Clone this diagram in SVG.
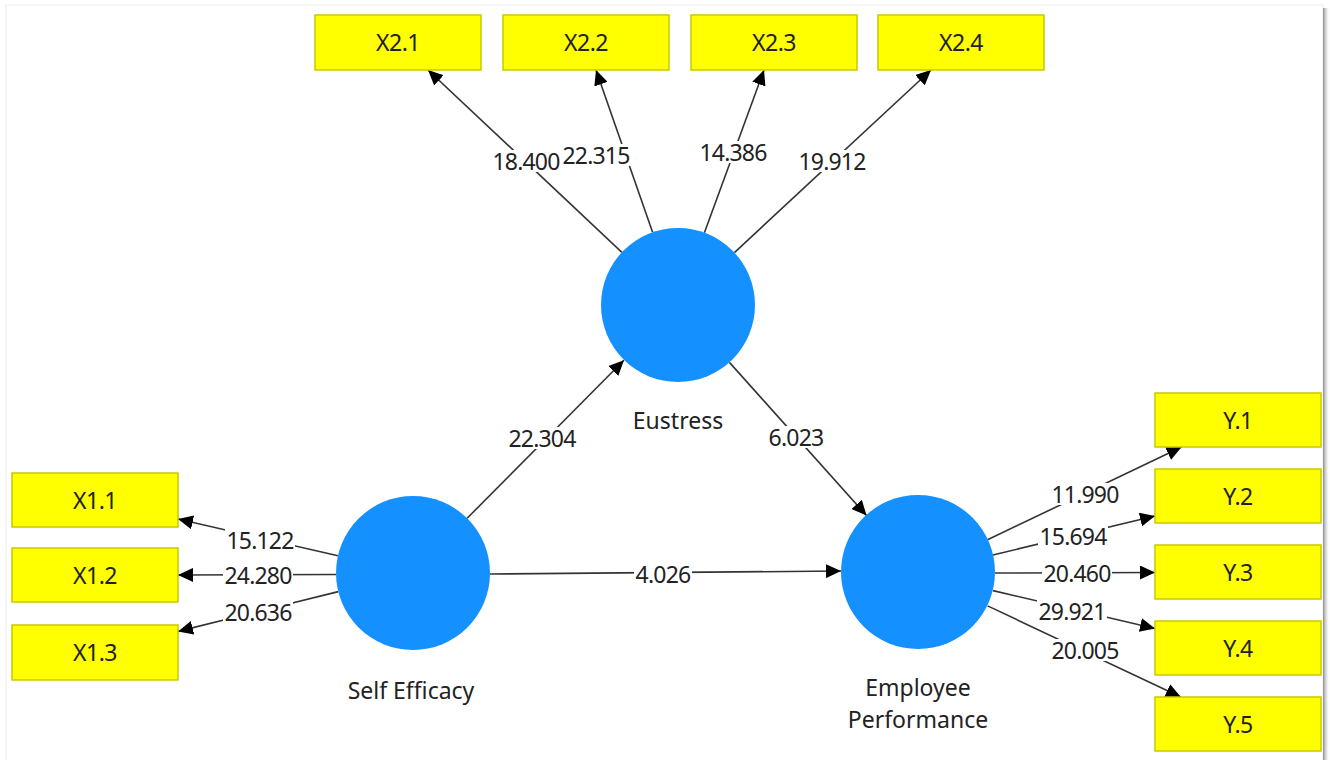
<svg xmlns="http://www.w3.org/2000/svg" width="1330" height="760" viewBox="0 0 1330 760">
<defs>
<marker id="ah" markerUnits="userSpaceOnUse" markerWidth="16" markerHeight="14" refX="15" refY="7" orient="auto">
<path d="M0,0 L15,7 L0,14 Z" fill="#000"/>
</marker>
<linearGradient id="sh" x1="0" x2="1" y1="0" y2="0">
<stop offset="0" stop-color="#8a8a8a"/>
<stop offset="1" stop-color="#ffffff" stop-opacity="0"/>
</linearGradient>
<style>
.ind rect{fill:#ffff00;stroke:#c9c900;stroke-width:1.5}
.ind text{font-family:"Noto Sans","Open Sans",sans-serif;font-size:23px;fill:#222;text-anchor:middle;dominant-baseline:central;letter-spacing:-0.5px}
.lv circle{fill:#1591ff}
.lv text{font-family:"Noto Sans","Open Sans",sans-serif;font-size:23px;fill:#222;text-anchor:middle}
.c line{stroke:#333;stroke-width:1.6;marker-end:url(#ah)}
.lb rect{fill:#fff}
.lb text{font-family:"Noto Sans","Open Sans",sans-serif;font-size:23px;fill:#222;text-anchor:middle;dominant-baseline:central;letter-spacing:-0.8px}
</style>
</defs>
<rect x="0" y="0" width="1330" height="760" fill="#fff"/>
<rect x="6" y="5" width="1317" height="760" fill="#fff" stroke="#eeeeee" stroke-width="1"/>
<rect x="1323" y="8" width="7" height="752" fill="url(#sh)"/>

<g id="connectors" class="c">
<line x1="621.9" y1="252.3" x2="428" y2="70"/>
<line x1="652.6" y1="232.3" x2="596" y2="70"/>
<line x1="704.4" y1="232.7" x2="764" y2="70"/>
<line x1="734.4" y1="252.6" x2="931" y2="70"/>
<line x1="467.1" y1="518.3" x2="623.9" y2="360.3"/>
<line x1="729.4" y1="362.4" x2="866.6" y2="515.6"/>
<line x1="490" y1="574" x2="841" y2="571"/>
<line x1="337.9" y1="555.8" x2="178" y2="519"/>
<line x1="336" y1="574.5" x2="178" y2="575"/>
<line x1="338.3" y1="591.6" x2="178" y2="631.4"/>
<line x1="987.5" y1="539.8" x2="1181.6" y2="447"/>
<line x1="992.9" y1="555" x2="1155" y2="516"/>
<line x1="995" y1="573" x2="1155" y2="572.5"/>
<line x1="993" y1="590.6" x2="1155" y2="628.5"/>
<line x1="987.6" y1="605.9" x2="1180.8" y2="697"/>
</g>

<g id="connector-labels" class="lb">
<rect x="491" y="150" width="70" height="22"/>
<rect x="561" y="144" width="70" height="22"/>
<rect x="698" y="141" width="70" height="22"/>
<rect x="797" y="150" width="70" height="22"/>
<rect x="507" y="427" width="70" height="22"/>
<rect x="767" y="426" width="58" height="22"/>
<rect x="634" y="563" width="58" height="22"/>
<rect x="225" y="529" width="70" height="22"/>
<rect x="223" y="564" width="70" height="22"/>
<rect x="223" y="601" width="70" height="22"/>
<rect x="1050" y="483" width="70" height="22"/>
<rect x="1038" y="525" width="70" height="22"/>
<rect x="1042" y="562" width="70" height="22"/>
<rect x="1037" y="600" width="70" height="22"/>
<rect x="1050" y="639" width="70" height="22"/>
<text x="526" y="161">18.400</text>
<text x="596" y="155">22.315</text>
<text x="733" y="152">14.386</text>
<text x="832" y="161">19.912</text>
<text x="542" y="438">22.304</text>
<text x="796" y="437">6.023</text>
<text x="663" y="574">4.026</text>
<text x="260" y="540">15.122</text>
<text x="258" y="575">24.280</text>
<text x="258" y="612">20.636</text>
<text x="1085" y="494">11.990</text>
<text x="1073" y="536">15.694</text>
<text x="1077" y="573">20.460</text>
<text x="1072" y="611">29.921</text>
<text x="1085" y="650">20.005</text>
</g>

<g id="eustress" class="lv"><circle cx="678" cy="305" r="77"/><text x="678" y="429">Eustress</text></g>
<g id="self-efficacy" class="lv"><circle cx="413" cy="573" r="77"/><text x="411" y="699">Self Efficacy</text></g>
<g id="employee-performance" class="lv"><circle cx="918" cy="572" r="77"/><text x="918" y="696">Employee</text><text x="918" y="728">Performance</text></g>

<g id="X2.1" class="ind"><rect x="315" y="15" width="166" height="55"/><text x="398" y="42">X2.1</text></g>
<g id="X2.2" class="ind"><rect x="503" y="15" width="166" height="55"/><text x="586" y="42">X2.2</text></g>
<g id="X2.3" class="ind"><rect x="691" y="15" width="166" height="55"/><text x="774" y="42">X2.3</text></g>
<g id="X2.4" class="ind"><rect x="878" y="15" width="166" height="55"/><text x="961" y="42">X2.4</text></g>
<g id="X1.1" class="ind"><rect x="12" y="473" width="166" height="54"/><text x="95" y="500">X1.1</text></g>
<g id="X1.2" class="ind"><rect x="12" y="548" width="166" height="54"/><text x="95" y="575">X1.2</text></g>
<g id="X1.3" class="ind"><rect x="12" y="625" width="166" height="55"/><text x="95" y="652">X1.3</text></g>
<g id="Y.1" class="ind"><rect x="1155" y="393" width="166" height="54"/><text x="1238" y="420">Y.1</text></g>
<g id="Y.2" class="ind"><rect x="1155" y="469" width="166" height="54"/><text x="1238" y="496">Y.2</text></g>
<g id="Y.3" class="ind"><rect x="1155" y="545" width="166" height="54"/><text x="1238" y="572">Y.3</text></g>
<g id="Y.4" class="ind"><rect x="1155" y="621" width="166" height="54"/><text x="1238" y="648">Y.4</text></g>
<g id="Y.5" class="ind"><rect x="1155" y="697" width="166" height="54"/><text x="1238" y="724">Y.5</text></g>
</svg>
